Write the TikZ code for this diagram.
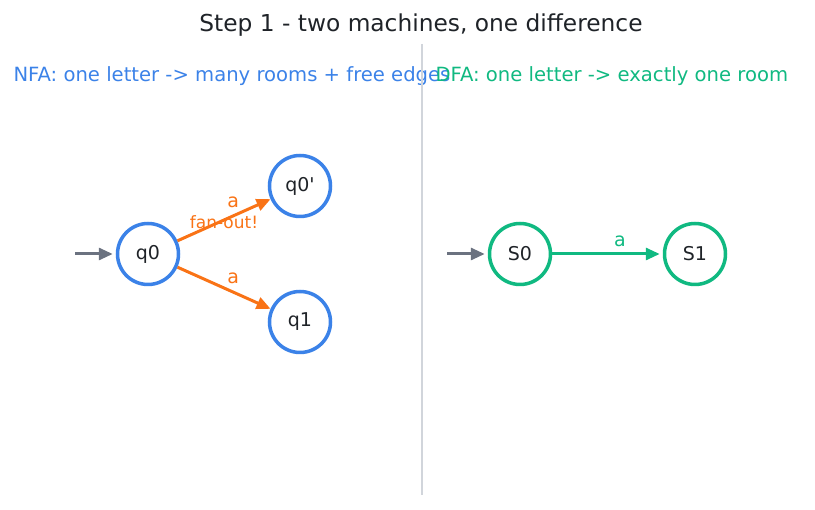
\documentclass[tikz,border=0pt]{standalone}
\usepackage{fontspec}
\setmainfont{DejaVu Sans}
\usetikzlibrary{arrows.meta}
\definecolor{nfablue}{HTML}{3B82E8}
\definecolor{dfagreen}{HTML}{10B981}
\definecolor{fanorange}{HTML}{F97316}
\definecolor{startgray}{HTML}{6B7280}
\definecolor{divgray}{HTML}{D1D5DB}
\definecolor{inkdark}{HTML}{1F2328}

\begin{document}
\begin{tikzpicture}[x=1pt,y=-1pt,
  state/.style={circle,draw,line width=3.5pt,minimum size=61pt,inner sep=0pt,
    text=inkdark,font=\fontsize{19}{21}\selectfont},
  trans/.style={line width=3pt,-{Triangle[length=14pt,width=12pt]}},
  lbl/.style={font=\fontsize{19}{21}\selectfont,inner sep=2pt},
  sub/.style={anchor=west,font=\fontsize{19.6}{22}\selectfont}]
\useasboundingbox (0,0) rectangle (815,510);
% titles
\node[font=\fontsize{23.3}{26}\selectfont,text=inkdark] (title) at (421,25) {Step 1 - two machines, one difference};
\node[sub,text=nfablue] (nfahead) at (10,76) {NFA: one letter -> many rooms + free edges};
\node[sub,text=dfagreen] (dfahead) at (432,76) {DFA: one letter -> exactly one room};
\draw[divgray,line width=1.5pt] (422,44) -- (422,495);
% NFA
\node[state,draw=nfablue] (q0) at (148,254) {q0};
\node[state,draw=nfablue] (q0p) at (300,186) {q0\textquotesingle};
\node[state,draw=nfablue] (q1) at (300,322) {q1};
\coordinate (nfain) at (75,254);
\draw[trans,startgray] (nfain) -- ([xshift=-3pt]q0.west);
\draw[trans,fanorange] (q0) -- (q0p)
  node[lbl,pos=0.6,above=5pt] {a}
  node[pos=0.5,yshift=-2pt,font=\fontsize{17}{19}\selectfont] {fan-out!};
\draw[trans,fanorange] (q0) -- (q1) node[lbl,pos=0.6,above=5pt] {a};
% DFA
\node[state,draw=dfagreen] (s0) at (520,254) {S0};
\node[state,draw=dfagreen] (s1) at (695,254) {S1};
\coordinate (dfain) at (447,254);
\draw[trans,startgray] (dfain) -- ([xshift=-3pt]s0.west);
\draw[trans,dfagreen] (s0) -- ([xshift=-3pt]s1.west) node[lbl,pos=0.63,above=4pt] {a};
\end{tikzpicture}
\end{document}
